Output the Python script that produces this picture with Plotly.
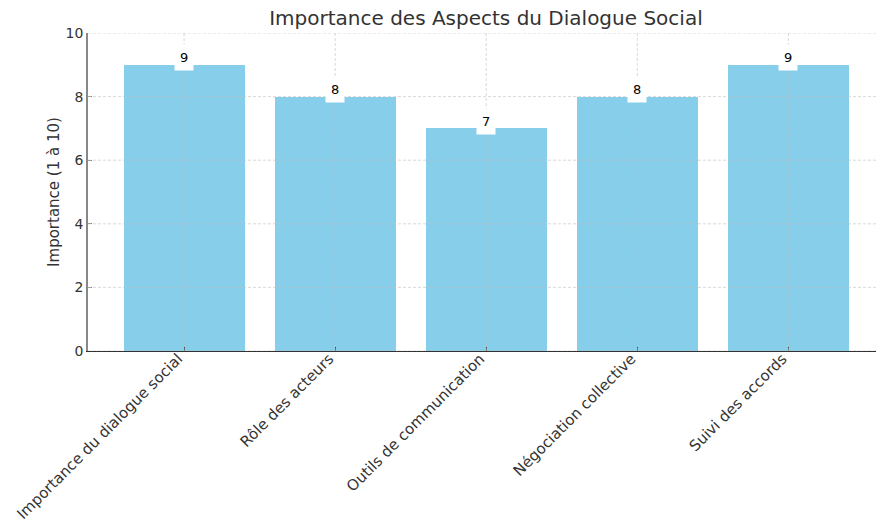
import plotly.graph_objects as go

# Aspects of social dialogue and their rated importance (scale 1 to 10)
aspects = [
    "Importance du dialogue social",
    "Rôle des acteurs",
    "Outils de communication",
    "Négociation collective",
    "Suivi des accords",
]
importance = [9, 8, 7, 8, 9]
y_ticks = [0, 2, 4, 6, 8, 10]

FONT = "DejaVu Sans"
TEXT = "#333333"
BAR = "#87CEEB"
GRID = "rgba(190,190,190,0.75)"

fig = go.Figure(
    go.Bar(
        x=list(range(len(aspects))),
        y=importance,
        width=0.8,
        marker=dict(color=BAR, line=dict(width=0)),
        hoverinfo="skip",
    )
)

# Dashed grid drawn above the bars
shapes = []
for t in y_ticks:
    shapes.append(dict(
        type="line", xref="paper", yref="y", x0=0, x1=1, y0=t, y1=t,
        line=dict(color=GRID, width=0.8, dash="3px,2px"), layer="above",
    ))
for i in range(len(aspects)):
    shapes.append(dict(
        type="line", xref="x", yref="y", x0=i, x1=i, y0=0, y1=10,
        line=dict(color=GRID, width=0.8, dash="3px,2px"), layer="above",
    ))

# Value labels in white boxes at the top of each bar
annotations = [
    dict(
        x=i, y=v, xref="x", yref="y", text=str(v), showarrow=False,
        yanchor="middle", yshift=7, bgcolor="white", borderpad=5,
        font=dict(family=FONT, size=13, color="black"),
    )
    for i, v in enumerate(importance)
]

fig.update_layout(
    width=876,
    height=524,
    margin=dict(l=88, r=0, t=33, b=173),
    paper_bgcolor="white",
    plot_bgcolor="white",
    showlegend=False,
    font=dict(family=FONT, size=14, color=TEXT),
    title=dict(
        text="Importance des Aspects du Dialogue Social",
        xref="paper", x=0.505, xanchor="center",
        yref="container", y=1 - 18 / 524, yanchor="middle",
        font=dict(family=FONT, size=20, color=TEXT),
    ),
    shapes=shapes,
    annotations=annotations,
    bargap=0,
)

fig.update_xaxes(
    tickmode="array",
    tickvals=list(range(len(aspects))),
    ticktext=aspects,
    tickangle=-45,
    range=[-0.636, 4.58],
    automargin=False,
    showgrid=False,
    zeroline=False,
    showline=True,
    linecolor="#333333",
    linewidth=1.2,
    ticks="inside",
    ticklen=4,
    tickcolor="#444444",
    ticklabelstandoff=-8,
    ticklabelshift=-6,
    tickfont=dict(family=FONT, size=15, color=TEXT),
)

fig.update_yaxes(
    tickmode="array",
    tickvals=y_ticks,
    range=[0, 10],
    automargin=False,
    showgrid=False,
    zeroline=False,
    showline=True,
    linecolor="#888888",
    linewidth=1.5,
    ticks="inside",
    ticklen=4,
    tickcolor="#888888",
    tickfont=dict(family=FONT, size=14, color=TEXT),
    title=dict(text="Importance (1 à 10)", font=dict(family=FONT, size=15, color=TEXT), standoff=2),
)

fig.write_html("out.html")
